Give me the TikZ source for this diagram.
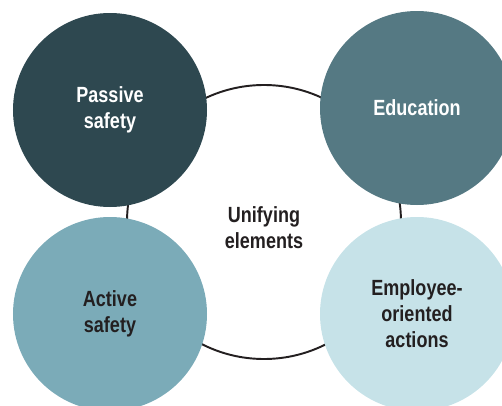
\documentclass[tikz,border=0pt]{standalone}
\usepackage{fontspec}
\setmainfont{Liberation Sans}[FakeStretch=0.82]
\usepackage{xcolor}
\definecolor{c1}{HTML}{2E4850}
\definecolor{c2}{HTML}{557983}
\definecolor{c3}{HTML}{7BABB8}
\definecolor{c4}{HTML}{C6E2E8}
\definecolor{ink}{HTML}{231F20}
\newcommand{\rBall}{1.94}
\newcommand{\rRing}{2.74}

\begin{document}
\begin{tikzpicture}[
	ball/.style={circle, minimum size=2*\rBall cm, inner sep=0pt, align=center,
		font=\fontsize{12.5}{14.8}\selectfont\bfseries},
	ring/.style={circle, draw=ink, line width=1.1pt, minimum size=2*\rRing cm, inner sep=0pt}
	]
	\useasboundingbox (0,0) rectangle (10.04,8.1);
	\clip (0,0) rectangle (10.04,8.1);
	\node[ring] (ring) at (5.28,3.66) {};
	\node[align=center, text=ink, font=\fontsize{12.5}{14.8}\selectfont\bfseries] (unify) at (5.28,3.54) {Unifying\\elements};
	\node[ball, fill=c1, text=white] (passive) at (2.2,5.9) {Passive\\safety};
	\node[ball, fill=c2, text=white] (edu) at (8.34,5.94) {Education};
	\node[ball, fill=c3, text=ink] (active) at (2.2,1.82) {Active\\safety};
	\node[ball, fill=c4, text=ink] (employee) at (8.34,1.82) {Employee-\\oriented\\actions};
\end{tikzpicture}
\end{document}
